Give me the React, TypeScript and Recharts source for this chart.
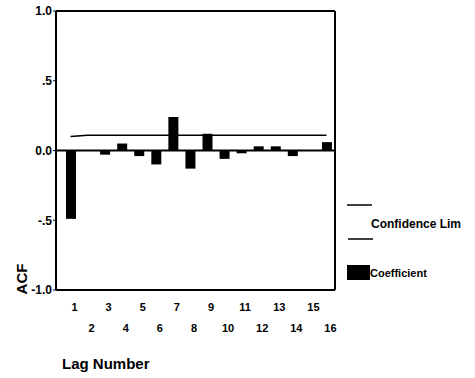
import React from 'react';
import { ComposedChart, Bar, Line, XAxis, YAxis, ReferenceLine } from 'recharts';

// ACF by lag
const lags = ['1', '2', '3', '4', '5', '6', '7', '8', '9', '10', '11', '12', '13', '14', '15', '16'];
const coefficients = [-0.49, 0.0, -0.03, 0.05, -0.04, -0.1, 0.24, -0.13, 0.12, -0.06, -0.02, 0.03, 0.03, -0.04, 0.0, 0.06];
const upperLimit = [0.1, 0.11, 0.11, 0.11, 0.11, 0.11, 0.11, 0.11, 0.11, 0.11, 0.11, 0.11, 0.11, 0.11, 0.11, 0.11];

const yTicks = [-1, -0.5, 0, 0.5, 1];
const yTickLabels = ['-1.0', '-.5', '0.0', '.5', '1.0'];

const FONT = '"Liberation Sans", Arial, sans-serif';

const chartData = lags.map((lag, i) => ({
  lag,
  acf: coefficients[i],
  upper: upperLimit[i],
}));

// lag labels alternate between two rows
const LagTick: React.FC<any> = ({ x, y, payload, index }) => {
  const odd = index % 2 === 0;
  return (
    <text
      x={x + 4}
      y={y + (odd ? 21 : 42)}
      textAnchor="middle"
      fontFamily={FONT}
      fontSize={11}
      fontWeight="bold"
      fill="#000"
    >
      {payload.value}
    </text>
  );
};

const yFormat = (v: number) => yTickLabels[yTicks.indexOf(v)] ?? String(v);

const Legendbox: React.FC = () => (
  <svg width={130} height={95} style={{ position: 'absolute', left: 345, top: 195 }}>
    <line x1={2} y1={10} x2={27} y2={10} stroke="#000" strokeWidth={1.5} />
    <text x={26} y={33} fontFamily={FONT} fontSize={12} fontWeight="bold" fill="#000">
      Confidence Lim
    </text>
    <line x1={3} y1={44} x2={28} y2={44} stroke="#000" strokeWidth={1.5} />
    <rect x={2} y={70} width={23} height={15} fill="#000" />
    <text x={25} y={82} fontFamily={FONT} fontSize={11} fontWeight="bold" fill="#000">
      Coefficient
    </text>
  </svg>
);

export default function App() {
  return (
    <div style={{ position: 'absolute', left: 0, top: 0, width: 475, height: 378, background: '#fff' }}>
      <ComposedChart
        width={475}
        height={378}
        data={chartData}
        margin={{ top: 11, right: 140, left: 16, bottom: 0 }}
      >
        <XAxis
          dataKey="lag"
          height={88}
          padding={{ left: 6, right: 0 }}
          axisLine={{ stroke: '#000', strokeWidth: 2 }}
          tickLine={false}
          tickSize={0}
          tickMargin={0}
          interval={0}
          tick={<LagTick />}
          label={(props: any) => (
            <text
              x={props.viewBox.x + 6}
              y={props.viewBox.y + 79}
              fontFamily={FONT}
              fontSize={15}
              fontWeight="bold"
              fill="#000"
            >
              Lag Number
            </text>
          )}
        />
        <YAxis
          domain={[-1, 1]}
          ticks={yTicks}
          tickFormatter={yFormat}
          width={40}
          interval={0}
          axisLine={{ stroke: '#000', strokeWidth: 2 }}
          tickLine={{ stroke: '#000' }}
          tickSize={3}
          tickMargin={1}
          tick={{ fontFamily: FONT, fontSize: 12, fontWeight: 'bold', fill: '#000' }}
          label={(props: any) => (
            <text
              x={props.viewBox.x + 11}
              y={279}
              transform={`rotate(-90, ${props.viewBox.x + 11}, 279)`}
              textAnchor="middle"
              fontFamily={FONT}
              fontSize={15}
              fontWeight="bold"
              fill="#000"
            >
              ACF
            </text>
          )}
        />
        {/* frame: top edge and right edge (end of the last lag band) */}
        <ReferenceLine y={1} stroke="#000" strokeWidth={2} />
        <ReferenceLine x="16" position="end" stroke="#000" strokeWidth={2} />
        <ReferenceLine y={0} stroke="#000" strokeWidth={2} />
        <Bar dataKey="acf" fill="#000" barSize={10} isAnimationActive={false} />
        <Line
          type="linear"
          dataKey="upper"
          stroke="#000"
          strokeWidth={1.5}
          dot={false}
          activeDot={false}
          isAnimationActive={false}
        />
      </ComposedChart>
      <Legendbox />
    </div>
  );
}
